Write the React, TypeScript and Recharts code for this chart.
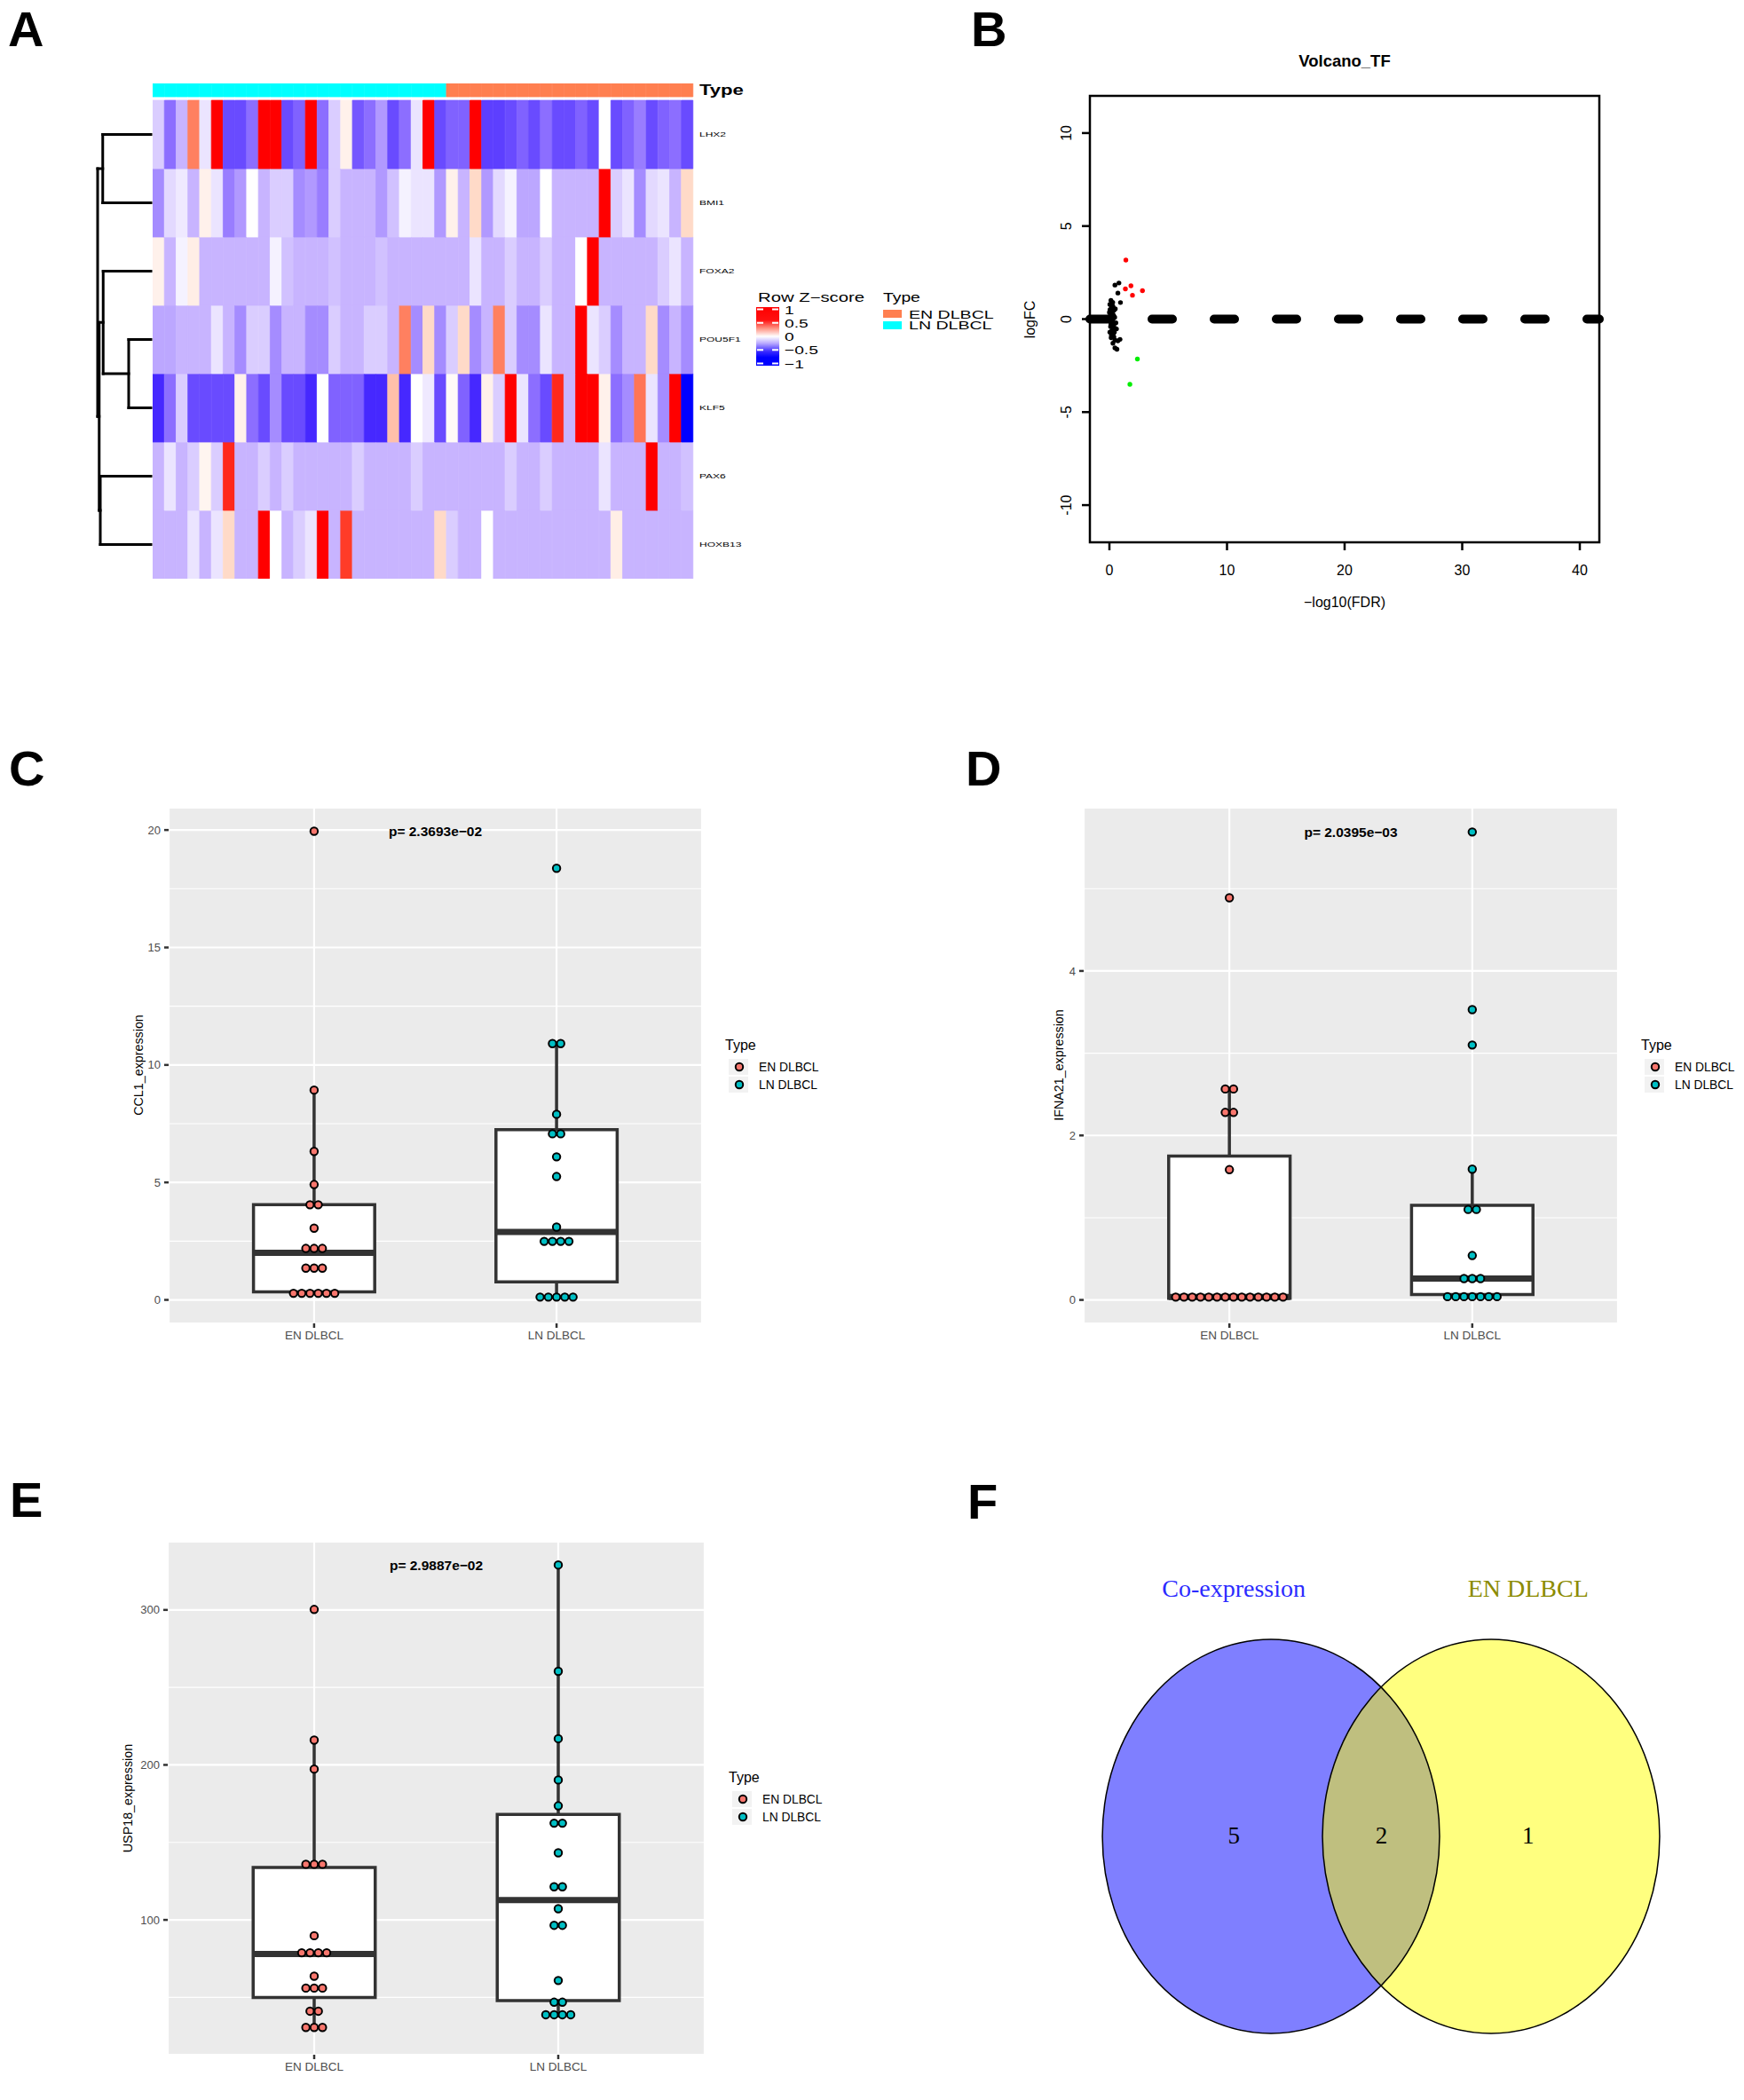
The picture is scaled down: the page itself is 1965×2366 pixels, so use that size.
import React from 'react';
import {
  BarChart, Bar, Cell, XAxis, YAxis, ScatterChart, Scatter, CartesianGrid,
  ReferenceLine, ReferenceArea,
} from 'recharts';

const FONT = '"Liberation Sans", Arial, Helvetica, sans-serif';
const SERIF = '"Liberation Serif", "Times New Roman", serif';

// ================= Panel A : heatmap data =================
const heatGenes = ['LHX2', 'BMI1', 'FOXA2', 'POU5F1', 'KLF5', 'PAX6', 'HOXB13'];
const sampleGroups = ['LN DLBCL', 'EN DLBCL'];
const sampleGroupSizes = [25, 21];
const typeColors: Record<string, string> = { 'EN DLBCL': '#FF7F50', 'LN DLBCL': '#00FFFF' };

const zLHX2 = [-0.2, -0.55, -0.3, 0.55, -0.1, 1, -0.7, -0.7, -0.55, 1, 1, -0.7, -0.6, 1, -0.55, -0.2, 0.08, -0.65, -0.55, -0.4, -0.7, -0.55, -0.1, 1, -0.7,
  -0.6, -0.6, 1, -0.75, -0.75, -0.7, -0.6, -0.7, -0.55, -0.7, -0.7, -0.6, -0.7, 0, -0.7, -0.6, -0.5, -0.7, -0.6, -0.55, -0.7];
const zBMI1 = [-0.45, -0.15, -0.08, -0.3, 0.08, -0.1, -0.5, -0.4, 0, -0.3, -0.2, -0.2, -0.45, -0.4, -0.5, -0.2, -0.3, -0.3, -0.3, -0.4, -0.25, -0.05, -0.1, -0.1, -0.4,
  0.08, -0.3, 0.2, -0.4, -0.15, -0.05, -0.35, -0.35, 0, -0.3, -0.3, -0.3, -0.3, 1, -0.2, -0.1, -0.45, -0.15, -0.1, -0.3, 0.2];
const zFOXA2 = [0.08, -0.3, -0.05, 0.1, -0.3, -0.3, -0.3, -0.3, -0.3, -0.3, -0.05, -0.25, -0.3, -0.3, -0.3, -0.25, -0.3, -0.3, -0.3, -0.25, -0.3, -0.3, -0.3, -0.3, -0.3,
  -0.3, -0.3, -0.1, -0.3, -0.3, -0.2, -0.3, -0.3, -0.2, -0.3, -0.3, 0, 1, -0.3, -0.3, -0.3, -0.3, -0.3, -0.2, -0.1, -0.3];
const zPOU5F1 = [-0.35, -0.35, -0.3, -0.3, -0.3, -0.1, -0.3, -0.45, -0.2, -0.2, -0.45, -0.3, -0.3, -0.45, -0.45, -0.2, -0.3, -0.3, -0.2, -0.2, -0.3, 0.55, -0.45, 0.2, -0.45,
  -0.2, 0.2, -0.45, -0.3, 0.55, -0.2, -0.45, -0.45, -0.1, -0.3, -0.3, 1, -0.1, -0.2, -0.45, -0.3, -0.3, 0.2, -0.45, -0.3, -0.45];
const zKLF5 = [-0.85, -0.55, -0.2, -0.7, -0.7, -0.7, -0.7, 0.08, -0.55, -0.7, -0.45, -0.7, -0.7, -0.85, 0, -0.6, -0.6, -0.6, -0.85, -0.85, 0.3, -0.85, 0, -0.08, -0.7,
  0.03, -0.6, -0.85, 0.08, -0.2, 1, -0.1, -0.55, -0.7, 0.9, -0.3, 1, 1, 0.08, -0.55, -0.45, 0.6, -0.1, -0.45, 1, -1];
const zPAX6 = [-0.3, -0.1, -0.3, -0.2, 0.06, -0.2, 0.9, -0.3, -0.3, -0.2, -0.3, -0.2, -0.3, -0.3, -0.3, -0.3, -0.3, -0.2, -0.3, -0.3, -0.3, -0.3, -0.2, -0.3, -0.3,
  -0.3, -0.3, -0.3, -0.3, -0.3, -0.2, -0.3, -0.3, -0.2, -0.3, -0.3, -0.3, -0.3, -0.1, -0.3, -0.3, -0.3, 1, -0.3, -0.3, -0.25];
const zHOXB13 = [-0.3, -0.3, -0.3, -0.1, -0.3, -0.1, 0.2, -0.3, -0.3, 1, 0, -0.3, -0.2, -0.1, 1, -0.3, 0.85, -0.3, -0.3, -0.3, -0.3, -0.3, -0.3, -0.3, 0.2,
  -0.2, -0.3, -0.3, 0, -0.3, -0.3, -0.3, -0.3, -0.3, -0.3, -0.3, -0.3, -0.3, -0.3, 0.1, -0.3, -0.3, -0.3, -0.3, -0.3, -0.3];

const zLegendTicks = [1, 0.5, 0, -0.5, -1];

// dendrogram (row clustering): merge heights
const dendroMerges = [
  { id: 'm1', a: 'POU5F1', b: 'KLF5', height: 1.0 },
  { id: 'm2', a: 'FOXA2', b: 'm1', height: 2.15 },
  { id: 'm3', a: 'LHX2', b: 'BMI1', height: 2.17 },
  { id: 'm4', a: 'PAX6', b: 'HOXB13', height: 2.28 },
  { id: 'm5', a: 'm2', b: 'm4', height: 2.33 },
  { id: 'm6', a: 'm3', b: 'm5', height: 2.4 },
];

// ================= Panel B : volcano data =================
const volNotSig = [
  [0.47, 1.83], [0.81, 1.94], [0.72, 1.4], [0.94, 0.89], [0.13, 1.0], [0.04, 0.79], [0.17, 0.62], [0.3, 0.68],
  [0.38, 0.47], [0.09, 0.26], [0.2, 0.15], [0.02, -0.1], [0.13, -0.28], [0.3, -0.45], [0.47, -0.49], [0.6, -0.53],
  [0.04, -0.7], [0.17, -0.87], [0.38, -0.96], [0.47, -1.13], [0.72, -1.17], [0.9, -1.09], [0.3, -1.3], [0.47, -1.55],
  [0.64, -1.62], [0.0, 0.36], [0.25, 0.35], [0.35, 0.2], [0.1, -0.4], [0.22, -0.6], [0.4, -0.25], [0.05, 0.5],
  [0.28, 0.9], [0.15, -1.0], [0.33, -0.8], [0.45, 0.1], [0.55, -0.2], [0.2, -0.15], [0.08, 0.05], [0.36, 0.05],
  [0.12, 0.42], [0.42, -0.7], [0.5, 0.55], [0.26, -0.05],
];
const volUp = [[1.4, 3.17], [1.36, 1.62], [1.83, 1.79], [1.96, 1.28], [2.81, 1.53]];
const volDown = [[2.38, -2.15], [1.74, -3.51]];
const volXTicks = [0, 10, 20, 30, 40];
const volYTicks = [-10, -5, 0, 5, 10];

// ================= Panels C–E : box / dot plots =================
const boxGroups = ['EN DLBCL', 'LN DLBCL'];
const groupFill: Record<string, string> = { 'EN DLBCL': '#F8766D', 'LN DLBCL': '#00BFC4' };

const ccl1EN = [19.95, 8.93, 6.32, 4.91, 4.05, 4.05, 3.05, 2.19, 2.19, 2.19, 1.35, 1.35, 1.35, 0.28, 0.28, 0.28, 0.28, 0.28, 0.28];
const ccl1LN = [18.37, 10.91, 10.91, 7.9, 7.07, 7.07, 6.09, 5.25, 3.1, 2.49, 2.49, 2.49, 2.49, 0.12, 0.12, 0.12, 0.12, 0.12];
const ccl1Stats = [
  { min: 0.28, q1: 0.34, median: 2.0, q3: 4.05, max: 8.93 },
  { min: 0.12, q1: 0.77, median: 2.89, q3: 7.25, max: 10.91 },
];
const ccl1Ticks = [0, 5, 10, 15, 20];
const ccl1Minor = [2.5, 7.5, 12.5, 17.5];

const ifnEN = [4.89, 2.565, 2.565, 2.28, 2.28, 1.584, 0.035, 0.035, 0.035, 0.035, 0.035, 0.035, 0.035, 0.035, 0.035, 0.035, 0.035, 0.035, 0.035, 0.035];
const ifnLN = [5.69, 3.53, 3.1, 1.59, 1.1, 1.1, 0.54, 0.26, 0.26, 0.26, 0.04, 0.04, 0.04, 0.04, 0.04, 0.04, 0.04];
const ifnStats = [
  { min: 0.02, q1: 0.02, median: 0.035, q3: 1.75, max: 2.565 },
  { min: 0.04, q1: 0.066, median: 0.26, q3: 1.15, max: 1.59 },
];
const ifnTicks = [0, 2, 4];
const ifnMinor = [1, 3, 5];

const uspEN = [300.3, 216, 197.3, 135.9, 135.9, 135.9, 89.8, 78.8, 78.8, 78.8, 78.8, 63.7, 56, 56, 56, 41.1, 41.1, 30.6, 30.6, 30.6];
const uspLN = [329, 260.4, 216.9, 190.3, 173.6, 162.4, 162.4, 143.3, 121.4, 121.4, 107.2, 96.5, 96.5, 60.9, 46.9, 46.9, 38.8, 38.8, 38.8, 38.8];
const uspStats = [
  { min: 30.6, q1: 50, median: 78, q3: 133.8, max: 216 },
  { min: 37, q1: 48, median: 112.8, q3: 168, max: 329 },
];
const uspTicks = [100, 200, 300];
const uspMinor = [50, 150, 250];

// ================= Panel F : Venn =================
const vennSets = [
  { name: 'Co-expression', x: 3.909, y: 5.852, rx: 2.171, ry: 3.10, fill: '#0000FF', text: '#2B2BFF', lx: 3.43, ly: 1.955 },
  { name: 'EN DLBCL', x: 6.743, y: 5.852, rx: 2.171, ry: 3.10, fill: '#FFFF00', text: '#8B8B00', lx: 7.22, ly: 1.955 },
];
const vennCounts = [
  { count: 5, x: 3.43, y: 5.84 },
  { count: 2, x: 5.33, y: 5.84 },
  { count: 1, x: 7.22, y: 5.84 },
];

// ================= helpers =================
const zStops: [number, number[]][] = [
  [-1, [0, 0, 255]], [-0.85, [70, 40, 255]], [-0.7, [105, 75, 255]], [-0.55, [140, 110, 255]],
  [-0.45, [165, 140, 255]], [-0.3, [200, 180, 255]], [-0.2, [218, 205, 255]], [-0.1, [235, 228, 255]],
  [0, [255, 255, 255]], [0.1, [255, 238, 230]], [0.2, [255, 218, 200]], [0.55, [255, 128, 96]],
  [0.85, [255, 60, 40]], [1, [255, 0, 0]],
];
function zColor(v: number) {
  const t = Math.max(-1, Math.min(1, v));
  for (let i = 0; i < zStops.length - 1; i++) {
    const [a, ca] = zStops[i];
    const [b, cb] = zStops[i + 1];
    if (t >= a && t <= b) {
      const f = b === a ? 0 : (t - a) / (b - a);
      const c = ca.map((x, k) => Math.round(x + (cb[k] - x) * f));
      return `rgb(${c[0]},${c[1]},${c[2]})`;
    }
  }
  return '#fff';
}

const heatZ: Record<string, number[]> = {
  LHX2: zLHX2, BMI1: zBMI1, FOXA2: zFOXA2, POU5F1: zPOU5F1, KLF5: zKLF5, PAX6: zPAX6, HOXB13: zHOXB13,
};
const sampleTypes: string[] = sampleGroups.flatMap((g, i) => Array.from({ length: sampleGroupSizes[i] }, () => g));
const GAP_H = 0.052;
const TYPE_H = 0.195;
const heatData = sampleTypes.map((t, i) => {
  const row: any = { sample: i + 1, type: t, gap: GAP_H, typeBar: TYPE_H };
  heatGenes.forEach((g) => { row[g] = 1; });
  return row;
});
const stackOrder = [...heatGenes].reverse();
const heatTicks = [...stackOrder.map((_, i) => i + 0.5), heatGenes.length + GAP_H + TYPE_H / 2];
const heatTickLabel = (v: number) => {
  const idx = Math.round(v - 0.5);
  if (Math.abs(v - (idx + 0.5)) < 1e-6 && idx >= 0 && idx < stackOrder.length) return stackOrder[idx];
  return 'Type';
};

function dotPoints(values: number[], pos: number, step: number) {
  const counts = new Map<number, number>();
  values.forEach((v) => counts.set(v, (counts.get(v) ?? 0) + 1));
  const seen = new Map<number, number>();
  return values.map((v) => {
    const n = counts.get(v)!;
    const i = seen.get(v) ?? 0;
    seen.set(v, i + 1);
    return { x: pos + (i - (n - 1) / 2) * step, y: v };
  });
}

const noShape = () => <g />;

// ================= Components =================
function Heatmap() {
  const L = 172, T = 94, PW = 609, PH = 558, AXW = 120;
  const W = PW + AXW + 20;
  const HeatTick = (p: any) => {
    const lab = heatTickLabel(p.payload.value);
    const isType = lab === 'Type';
    return (
      <text transform={`translate(${p.x + 7},${p.y + (isType ? 5.5 : 2.7)}) scale(${isType ? 1.38 : 1.6},1)`}
        fontSize={isType ? 16 : 7.5} fontWeight={isType ? 'bold' : 'normal'} fill="#000" fontFamily={FONT}>{lab}</text>
    );
  };
  return (
    <div style={{ position: 'absolute', left: L, top: T }}>
      <BarChart width={W} height={PH} data={heatData} margin={{ top: 0, right: W - PW - AXW, bottom: 0, left: 0 }}
        barCategoryGap={0} barGap={0}>
        <XAxis dataKey="sample" hide />
        <YAxis orientation="right" type="number" domain={[0, heatGenes.length + GAP_H + TYPE_H]} allowDataOverflow
          ticks={heatTicks} interval={0} width={AXW} axisLine={false} tickLine={false} tickSize={0} tickMargin={0} tick={HeatTick} />
        {stackOrder.map((g) => (
          <Bar key={g} dataKey={g} stackId="h" isAnimationActive={false}>
            {heatData.map((_, i) => {
              const c = zColor(heatZ[g][i]);
              return <Cell key={i} fill={c} stroke={c} strokeWidth={0.8} />;
            })}
          </Bar>
        ))}
        <Bar dataKey="gap" stackId="h" fill="transparent" isAnimationActive={false} />
        <Bar dataKey="typeBar" stackId="h" isAnimationActive={false}>
          {heatData.map((d, i) => <Cell key={i} fill={typeColors[d.type]} stroke={typeColors[d.type]} strokeWidth={0.8} />)}
        </Bar>
      </BarChart>
    </div>
  );
}

function Dendrogram() {
  const nodes: Record<string, { h: number; y: number }> = {};
  heatGenes.forEach((g, i) => { nodes[g] = { h: 0, y: i + 0.5 }; });
  const segs: { x1: number; y1: number; x2: number; y2: number }[] = [];
  dendroMerges.forEach((m) => {
    const a = nodes[m.a], b = nodes[m.b];
    segs.push({ x1: a.h, y1: a.y, x2: m.height, y2: a.y });
    segs.push({ x1: m.height, y1: a.y, x2: m.height, y2: b.y });
    segs.push({ x1: b.h, y1: b.y, x2: m.height, y2: b.y });
    nodes[m.id] = { h: m.height, y: (a.y + b.y) / 2 };
  });
  const leafPts = heatGenes.map((g) => ({ h: 0, y: nodes[g].y }));
  const maxH = Math.max(...dendroMerges.map((m) => m.height));
  return (
    <div style={{ position: 'absolute', left: 107, top: 113 }}>
      <ScatterChart width={66} height={539} margin={{ top: 0, right: 3, bottom: 0, left: 3 }}>
        <XAxis type="number" dataKey="h" domain={[0, maxH]} reversed hide allowDataOverflow />
        <YAxis type="number" dataKey="y" domain={[0, heatGenes.length]} reversed hide allowDataOverflow />
        <Scatter data={leafPts} isAnimationActive={false} shape={noShape} />
        {segs.map((s, i) => (
          <ReferenceLine key={i} ifOverflow="visible" segment={[{ x: s.x1, y: s.y1 }, { x: s.x2, y: s.y2 }]}
            stroke="#000" strokeWidth={3} strokeLinecap="square" />
        ))}
      </ScatterChart>
    </div>
  );
}

function Volcano() {
  const PL = 1228, PT = 108, PW = 574, PH = 503, YW = 108, MT = 68, XH = 60, MR = 30;
  const toPts = (a: number[][]) => a.map(([x, y]) => ({ x, y }));
  const dot = (fill: string) => (p: any) => <circle cx={p.cx} cy={p.cy} r={2.7} fill={fill} />;
  const XTick = (p: any) => (
    <text x={p.x} y={p.y + 28} textAnchor="middle" fontSize={16} fill="#000" fontFamily={FONT}>{p.payload.value}</text>
  );
  const YTick = (p: any) => (
    <text x={p.x - 12} y={p.y} transform={`rotate(-90, ${p.x - 12}, ${p.y})`} textAnchor="middle" fontSize={16}
      fill="#000" fontFamily={FONT}>{p.payload.value}</text>
  );
  return (
    <div style={{ position: 'absolute', left: PL - YW, top: PT - MT }}>
      <ScatterChart width={YW + PW + MR} height={MT + PH + XH} margin={{ top: MT, right: MR, bottom: 0, left: 0 }}>
        <XAxis type="number" dataKey="x" domain={[-1.66, 41.66]} ticks={volXTicks} interval={0} allowDataOverflow height={XH}
          axisLine={false} tickSize={9} tickMargin={0} tickLine={{ stroke: '#000', strokeWidth: 2.5 }} tick={XTick} />
        <YAxis type="number" dataKey="y" domain={[-12, 12]} ticks={volYTicks} interval={0} allowDataOverflow width={YW}
          axisLine={false} tickSize={9} tickMargin={0} tickLine={{ stroke: '#000', strokeWidth: 2.5 }} tick={YTick} />
        <Scatter data={toPts(volNotSig)} isAnimationActive={false} shape={dot('#000')} />
        <ReferenceLine y={0} stroke="#000" strokeWidth={10} strokeDasharray="23 47" strokeLinecap="round" />
        <Scatter data={toPts(volUp)} isAnimationActive={false} shape={dot('#FF0000')} />
        <Scatter data={toPts(volDown)} isAnimationActive={false} shape={dot('#00EE00')} />
        <ReferenceArea x1={-1.66} x2={41.66} y1={-12} y2={12} fill="none" fillOpacity={0} stroke="#000" strokeWidth={2.5} ifOverflow="visible" />
      </ScatterChart>
    </div>
  );
}

type Stats = { min: number; q1: number; median: number; q3: number; max: number };
function BoxPanel(p: {
  left: number; top: number; plotW: number; plotH: number; domain: [number, number]; ticks: number[]; minor: number[];
  en: number[]; ln: number[]; stats: Stats[]; pLabel: string;
}) {
  const ML = 90, MT = 20, MR = 10, XH = 40;
  const W = ML + p.plotW + MR, H = MT + p.plotH + XH;
  const STEP = 0.034;
  const HALF = 0.25;
  const groups = [
    { name: boxGroups[0], pos: 1, values: p.en, stats: p.stats[0] },
    { name: boxGroups[1], pos: 2, values: p.ln, stats: p.stats[1] },
  ];
  const maxY = Math.max(...p.en, ...p.ln);
  const XTick = (t: any) => (
    <text x={t.x} y={t.y + 13} textAnchor="middle" fontSize={13.5} fill="#4D4D4D" fontFamily={FONT}>
      {boxGroups[Math.round(t.payload.value) - 1]}
    </text>
  );
  const YTick = (t: any) => (
    <text x={t.x - 4} y={t.y + 4.6} textAnchor="end" fontSize={13} fill="#4D4D4D" fontFamily={FONT}>{t.payload.value}</text>
  );
  const dotShape = (fill: string) => (s: any) => (
    <circle cx={s.cx} cy={s.cy} r={4.2} fill={fill} stroke="#000" strokeWidth={2} />
  );
  const lineStyle = (w: number, cap = 'butt') => ({ stroke: '#333333', strokeWidth: w, strokeLinecap: cap, strokeLinejoin: 'miter', fill: 'none' });
  return (
    <div style={{ position: 'absolute', left: p.left - ML, top: p.top - MT }}>
      <ScatterChart width={W} height={H} margin={{ top: MT, right: MR, bottom: 0, left: 0 }}>
        <CartesianGrid fill="#EBEBEB" fillOpacity={1} stroke="#FFFFFF" strokeWidth={2.2} />
        <CartesianGrid horizontalValues={p.minor} vertical={false} stroke="#FFFFFF" strokeWidth={1.1} />
        <XAxis type="number" dataKey="x" domain={[0.4, 2.6]} ticks={[1, 2]} interval={0} allowDataOverflow height={XH}
          axisLine={false} tickSize={5} tickMargin={0} tickLine={{ stroke: '#333', strokeWidth: 2.5 }} tick={XTick} />
        <YAxis type="number" dataKey="y" domain={p.domain} ticks={p.ticks} interval={0} allowDataOverflow width={ML}
          axisLine={false} tickSize={5} tickMargin={0} tickLine={{ stroke: '#333', strokeWidth: 2.5 }} tick={YTick} />
        {groups.map((g) => (
          <ReferenceArea key={'bf' + g.name} x1={g.pos - HALF} x2={g.pos + HALF} y1={g.stats.q1} y2={g.stats.q3}
            fill="#FFFFFF" fillOpacity={1} stroke="none" />
        ))}
        {groups.map((g) => (
          <Scatter key={'wu' + g.name} data={[{ x: g.pos, y: g.stats.q3 }, { x: g.pos, y: g.stats.max }]}
            fill="#333333" line={lineStyle(3.5)} shape={noShape} isAnimationActive={false} />
        ))}
        {groups.map((g) => (
          <Scatter key={'wl' + g.name} data={[{ x: g.pos, y: g.stats.min }, { x: g.pos, y: g.stats.q1 }]}
            fill="#333333" line={lineStyle(3.5)} shape={noShape} isAnimationActive={false} />
        ))}
        {groups.map((g) => (
          <Scatter key={'bx' + g.name}
            data={[
              { x: g.pos - HALF, y: g.stats.q1 }, { x: g.pos + HALF, y: g.stats.q1 }, { x: g.pos + HALF, y: g.stats.q3 },
              { x: g.pos - HALF, y: g.stats.q3 }, { x: g.pos - HALF, y: g.stats.q1 },
            ]}
            fill="#333333" line={lineStyle(3.5, 'square')} shape={noShape} isAnimationActive={false} />
        ))}
        {groups.map((g) => (
          <Scatter key={'md' + g.name} data={[{ x: g.pos - HALF, y: g.stats.median }, { x: g.pos + HALF, y: g.stats.median }]}
            fill="#333333" line={lineStyle(7)} shape={noShape} isAnimationActive={false} />
        ))}
        {groups.map((g) => (
          <Scatter key={'pt' + g.name} data={dotPoints(g.values, g.pos, STEP)} isAnimationActive={false}
            shape={dotShape(groupFill[g.name])} />
        ))}
        <Scatter data={[{ x: 1.5, y: maxY }]} isAnimationActive={false}
          shape={(s: any) => (
            <text x={s.cx} y={s.cy + 5.5} textAnchor="middle" fontSize={15.5} fontWeight="bold" fill="#000" fontFamily={FONT}>{p.pLabel}</text>
          )} />
      </ScatterChart>
    </div>
  );
}

function Venn() {
  const L = 1090, T = 1650, W = 875, H = 716;
  const sx = W / 10, sy = H / 10;
  return (
    <div style={{ position: 'absolute', left: L, top: T }}>
      <ScatterChart width={W} height={H} margin={{ top: 0, right: 0, bottom: 0, left: 0 }}>
        <XAxis type="number" dataKey="x" domain={[0, 10]} hide allowDataOverflow />
        <YAxis type="number" dataKey="y" domain={[0, 10]} reversed hide allowDataOverflow />
        <Scatter data={vennSets} isAnimationActive={false}
          shape={(s: any) => (
            <ellipse cx={s.cx} cy={s.cy} rx={s.payload.rx * sx} ry={s.payload.ry * sy} fill={s.payload.fill} fillOpacity={0.5} stroke="none" />
          )} />
        <Scatter data={vennSets} isAnimationActive={false}
          shape={(s: any) => (
            <ellipse cx={s.cx} cy={s.cy} rx={s.payload.rx * sx} ry={s.payload.ry * sy} fill="none" stroke="#000" strokeWidth={1.5} />
          )} />
        <Scatter data={vennSets.map((v) => ({ x: v.lx, y: v.ly, name: v.name, color: v.text }))} isAnimationActive={false}
          shape={(s: any) => (
            <text x={s.cx} y={s.cy + 9} textAnchor="middle" fontSize={28} fill={s.payload.color} fontFamily={SERIF}>{s.payload.name}</text>
          )} />
        <Scatter data={vennCounts} isAnimationActive={false}
          shape={(s: any) => (
            <text x={s.cx} y={s.cy + 9} textAnchor="middle" fontSize={27} fill="#000" fontFamily={SERIF}>{s.payload.count}</text>
          )} />
      </ScatterChart>
    </div>
  );
}

function BoxLegend({ x, y }: { x: number; y: number }) {
  return (
    <g fontFamily={FONT}>
      <text x={x} y={y} fontSize={16} fill="#000">Type</text>
      {boxGroups.map((g, i) => (
        <g key={g}>
          <rect x={x + 4} y={y + 10 + i * 20} width={22} height={18} fill="#F2F2F2" />
          <circle cx={x + 16} cy={y + 19 + i * 20} r={4.2} fill={groupFill[g]} stroke="#000" strokeWidth={2} />
          <text x={x + 38} y={y + 24 + i * 20} fontSize={13.8} fill="#000">{g}</text>
        </g>
      ))}
    </g>
  );
}

function Overlay() {
  const letter = (t: string, x: number, y: number) => (
    <text x={x} y={y} fontSize={56} fontWeight="bold" fill="#000" fontFamily={FONT}>{t}</text>
  );
  const stretched = (t: string, x: number, y: number, size: number, sc = 1.4) => (
    <text transform={`translate(${x},${y}) scale(${sc},1)`} fontSize={size} fill="#000" fontFamily={FONT}>{t}</text>
  );
  const zY = (v: number) => 379 - v * 30.5;
  return (
    <svg width={1965} height={2366} style={{ position: 'absolute', left: 0, top: 0, pointerEvents: 'none' }}>
      <defs>
        <linearGradient id="zgrad" x1="0" y1="0" x2="0" y2="1">
          <stop offset="0" stopColor="#FF0000" />
          <stop offset="0.22" stopColor="#FF1010" />
          <stop offset="0.36" stopColor="#FF9080" />
          <stop offset="0.5" stopColor="#FFFFFF" />
          <stop offset="0.62" stopColor="#B8A8FF" />
          <stop offset="0.76" stopColor="#3A2AFF" />
          <stop offset="0.86" stopColor="#0000FF" />
          <stop offset="1" stopColor="#0000FF" />
        </linearGradient>
      </defs>
      {letter('A', 9, 52)}
      {letter('B', 1094, 52)}
      {letter('C', 10, 885)}
      {letter('D', 1088, 885)}
      {letter('E', 11, 1709)}
      {letter('F', 1090, 1711)}

      {/* heatmap legends */}
      {stretched('Row Z\u2212score', 854, 339.5, 14, 1.45)}
      <rect x={852} y={346} width={26} height={66} fill="url(#zgrad)" />
      {zLegendTicks.filter((v) => v !== 0).map((v) => (
        <g key={v}>
          <line x1={853} x2={860} y1={zY(v)} y2={zY(v)} stroke="#fff" strokeWidth={2} />
          <line x1={870} x2={877} y1={zY(v)} y2={zY(v)} stroke="#fff" strokeWidth={2} />
        </g>
      ))}
      {zLegendTicks.map((v) => (
        <g key={'l' + v}>{stretched(v === 0 ? '0' : (v < 0 ? '\u2212' : '') + String(Math.abs(v)), 884, zY(v) + 5, 13.5, 1.42)}</g>
      ))}
      {stretched('Type', 995, 339.5, 14, 1.38)}
      {['EN DLBCL', 'LN DLBCL'].map((g, i) => (
        <g key={g}>
          <rect x={995} y={349 + i * 13} width={21} height={9} fill={typeColors[g]} />
          {stretched(g, 1024, 358.5 + i * 12.5, 13.5, 1.45)}
        </g>
      ))}

      {/* volcano titles */}
      <text x={1515} y={75} textAnchor="middle" fontSize={18.5} fontWeight="bold" fill="#000" fontFamily={FONT}>Volcano_TF</text>
      <text x={1515} y={684} textAnchor="middle" fontSize={16} fill="#000" fontFamily={FONT}>{'\u2212log10(FDR)'}</text>
      <text x={1166} y={360} transform="rotate(-90, 1166, 360)" textAnchor="middle" fontSize={16} fill="#000" fontFamily={FONT}>logFC</text>

      {/* box plot y titles */}
      <text x={161} y={1200} transform="rotate(-90, 161, 1200)" textAnchor="middle" fontSize={14.3} fill="#000" fontFamily={FONT}>CCL1_expression</text>
      <text x={1198} y={1200} transform="rotate(-90, 1198, 1200)" textAnchor="middle" fontSize={14.3} fill="#000" fontFamily={FONT}>IFNA21_expression</text>
      <text x={149} y={2026} transform="rotate(-90, 149, 2026)" textAnchor="middle" fontSize={14.3} fill="#000" fontFamily={FONT}>USP18_expression</text>

      <BoxLegend x={817} y={1183} />
      <BoxLegend x={1849} y={1183} />
      <BoxLegend x={821} y={2008} />
    </svg>
  );
}

export default function App() {
  return (
    <div style={{ position: 'absolute', left: 0, top: 0, width: 1965, height: 2366, background: '#fff', overflow: 'hidden', fontFamily: FONT }}>
      <Dendrogram />
      <Heatmap />
      <Volcano />
      <BoxPanel left={190} top={910} plotW={601} plotH={581} domain={[-1.0, 20.95]} ticks={ccl1Ticks} minor={ccl1Minor}
        en={ccl1EN} ln={ccl1LN} stats={ccl1Stats} pLabel={'p= 2.3693e\u221202'} />
      <BoxPanel left={1221} top={910} plotW={602} plotH={581} domain={[-0.285, 5.985]} ticks={ifnTicks} minor={ifnMinor}
        en={ifnEN} ln={ifnLN} stats={ifnStats} pLabel={'p= 2.0395e\u221203'} />
      <BoxPanel left={189} top={1737} plotW={605} plotH={578} domain={[13, 344]} ticks={uspTicks} minor={uspMinor}
        en={uspEN} ln={uspLN} stats={uspStats} pLabel={'p= 2.9887e\u221202'} />
      <Venn />
      <Overlay />
    </div>
  );
}
